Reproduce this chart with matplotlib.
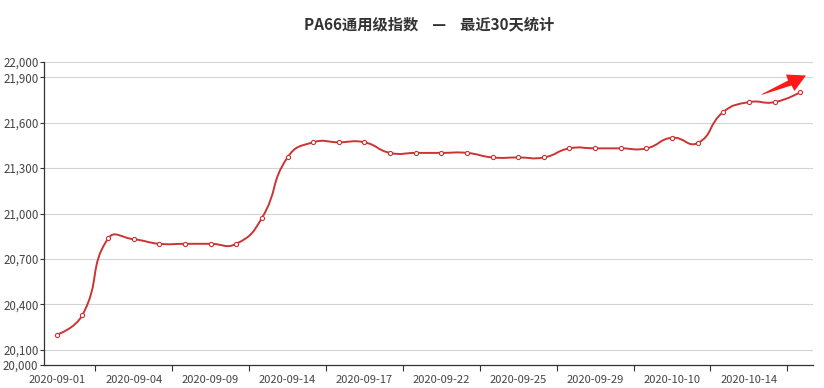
#!/bin/python
#-*- coding: utf-8 -*-

import numpy as np
from matplotlib import pyplot as plt
from matplotlib.path import Path
from matplotlib.patches import PathPatch, Polygon

plt.rcParams['font.family'] = ['Noto Sans CJK SC', 'DejaVu Sans']

# trading days shown (last 30 days)
dates = ['2020-09-01', '2020-09-02', '2020-09-03', '2020-09-04', '2020-09-07',
         '2020-09-08', '2020-09-09', '2020-09-10', '2020-09-11', '2020-09-14',
         '2020-09-15', '2020-09-16', '2020-09-17', '2020-09-18', '2020-09-21',
         '2020-09-22', '2020-09-23', '2020-09-24', '2020-09-25', '2020-09-27',
         '2020-09-28', '2020-09-29', '2020-09-30', '2020-10-09', '2020-10-10',
         '2020-10-12', '2020-10-13', '2020-10-14', '2020-10-15', '2020-10-16']
index = [20200, 20330, 20835, 20830, 20800, 20800, 20800, 20800, 20970, 21370,
         21470, 21470, 21470, 21400, 21400, 21400, 21400, 21370, 21370, 21370,
         21430, 21430, 21430, 21430, 21500, 21465, 21670, 21735, 21735, 21800]
y_ticks = [20000, 20100, 20400, 20700, 21000, 21300, 21600, 21900, 22000]

title = u'PA66通用级指数    —    最近30天统计'
red = '#cc3333'

W, H = 824, 388
fig = plt.figure(figsize=(W / 100.0, H / 100.0), dpi=100)
left, right, top, bottom = 44, 813, 62, 365
ax = fig.add_axes([left / float(W), (H - bottom) / float(H),
                   (right - left) / float(W), (bottom - top) / float(H)])

n = len(index)
ax.set_xlim(-0.5, n - 0.5)
ax.set_ylim(20000, 22000)

# echarts style smoothing, computed in pixel space
sx = (right - left) / float(n)
sy = (bottom - top) / 2000.0
px = np.arange(n) * sx
py = (np.array(index) - 20000.0) * sy
ymin, ymax = py.min(), py.max()
smooth = 0.5
verts = [(px[0], py[0])]
codes = [Path.MOVETO]
cx0, cy0 = px[0], py[0]
for k in range(1, n):
    x, y = px[k], py[k]
    x0, y0 = px[k - 1], py[k - 1]
    if k + 1 >= n:
        vx = vy = 0.0
        ratio = 0.5
        ncx, ncy = x, y
    else:
        x1, y1 = px[k + 1], py[k + 1]
        vx, vy = x1 - x0, y1 - y0
        d0 = np.hypot(x - x0, y - y0)
        d1 = np.hypot(x1 - x, y1 - y)
        ratio = d1 / (d0 + d1)
        ncx = x - vx * smooth * (1 - ratio)
        ncy = min(max(y - vy * smooth * (1 - ratio), ymin), ymax)
    verts += [(cx0, cy0), (ncx, ncy), (x, y)]
    codes += [Path.CURVE4] * 3
    cx0 = x + vx * smooth * ratio
    cy0 = min(max(y + vy * smooth * ratio, ymin), ymax)

verts = np.array(verts)
data_verts = np.column_stack([verts[:, 0] / sx, verts[:, 1] / sy + 20000.0])
ax.add_patch(PathPatch(Path(data_verts, codes), facecolor='none',
                       edgecolor=red, lw=1.4, zorder=3))
ax.plot(range(n), index, 'o', ms=3.0, mfc='white', mec=red, mew=0.8,
        zorder=4, clip_on=False)

# grid and axes
for v in y_ticks[1:]:
    ax.axhline(v, color='#d4d4d4', lw=0.8, zorder=1)
for s in ['top', 'right']:
    ax.spines[s].set_visible(False)
for s in ['left', 'bottom']:
    ax.spines[s].set_color('#333333')
    ax.spines[s].set_linewidth(0.9)

ax.set_yticks(y_ticks)
ax.set_yticklabels(['{:,}'.format(v) for v in y_ticks])
ax.tick_params(axis='y', length=3, width=0.8, color='#333333', pad=1,
               labelsize=8.3, labelcolor='#444444')

ax.set_xticks(range(0, n, 3))
ax.set_xticklabels(dates[0::3])
ax.set_xticks(np.arange(1.5, n, 3), minor=True)
ax.tick_params(axis='x', which='major', length=0, pad=7,
               labelsize=8, labelcolor='#444444')
ax.tick_params(axis='x', which='minor', length=4, width=0.8,
               color='#333333')

fig.text(0.5 + 17.0 / W, 1 - 24.0 / H, title, ha='center', va='center',
         fontsize=11, fontweight='bold', color='#333333')

# red trend arrow
arrow = [(762, 94), (788, 80.5), (786, 74.5), (806, 75.5), (794.5, 91),
         (791.5, 85.5), (762, 94.8)]
fig.patches.append(Polygon([(x / float(W), 1 - y / float(H)) for x, y in arrow],
                           closed=True, transform=fig.transFigure,
                           facecolor='#ff1a1a', edgecolor='none', zorder=10))

plt.savefig('out.png', dpi=100, facecolor='w', edgecolor='w')
